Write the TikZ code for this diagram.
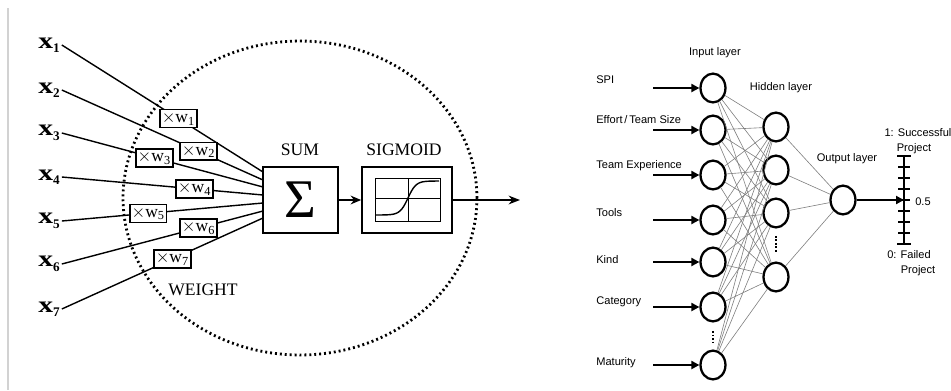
\documentclass[tikz,border=0pt]{standalone}
\usepackage{fontspec}
\setmainfont{Liberation Serif}
\newfontfamily\netfont{Liberation Sans}
\usetikzlibrary{shapes.geometric,arrows.meta}

\newcommand{\xin}[1]{{\fontsize{13}{13}\selectfont\bfseries\scalebox{1.3}[1]{x}}\raisebox{-2.5pt}{\fontsize{7.5}{7.5}\selectfont\bfseries #1}}
\newcommand{\wgt}[1]{$\times$w\textsubscript{#1}}

\begin{document}
\begin{tikzpicture}[x=0.02cm,y=-0.02cm,
  inline/.style={line width=0.8pt},
  wbox/.style={draw,fill=white,line width=0.8pt,minimum width=21pt,minimum height=10.2pt,inner sep=1pt,font=\fontsize{10}{10}\selectfont},
  blockbox/.style={draw,line width=1.2pt,minimum height=37.4pt,inner sep=0pt},
  serlabel/.style={font=\fontsize{10}{10}\selectfont},
  neuron/.style={ellipse,draw,line width=1.3pt,minimum width=14.2pt,minimum height=16.4pt,inner sep=0pt},
  netlabel/.style={font=\netfont\fontsize{6.3}{7.5}\selectfont,inner sep=0pt},
  conn/.style={gray,line width=0.35pt},
  inarrow/.style={line width=1.6pt,-{Triangle[length=4.5pt,width=4.5pt]}},
  vdots/.style={line width=1.2pt,dash pattern=on 1pt off 1pt}]

\useasboundingbox (0,0) rectangle (951,390);

% Frame line
\draw[gray!35,line width=0.6pt] (8,8) -- (8,390);

% ---------------- Single neuron ----------------
% Weight area
\draw[line width=1.6pt,dash pattern=on 1.1pt off 1.7pt] (300,198) ellipse [x radius=3.54cm,y radius=3.14cm];

% Sum and sigmoid blocks
\node[blockbox,minimum width=42.5pt,font=\fontsize{31}{31}\selectfont] (sum) at (300.5,200) {Σ};
\node[blockbox,minimum width=51pt] (sig) at (407,200) {};
\node[serlabel] (sumlab) at (300,150) {SUM};
\node[serlabel] (siglab) at (404,150) {SIGMOID};
\node[serlabel] (wlab) at (203,290) {WEIGHT};

% Sigmoid plot
\draw[line width=0.5pt] (375,178) rectangle (440,221);
\draw[line width=0.4pt] (408,178) -- (408,221) (375,198) -- (440,198);
\draw[line width=0.8pt] plot[domain=376:439,samples=40,smooth] (\x,{198-17*tanh((\x-408)/8)});

\draw[line width=0.8pt,-{Stealth[length=6pt,width=5pt]}] (sum) -- (sig);
\coordinate (yout) at (520,200);
\draw[line width=0.8pt,-{Stealth[length=6.5pt,width=5pt]}] (sig) -- (yout);

% Inputs
\foreach \i/\y in {1/45,2/90,3/133,4/177,5/221,6/264,7/309}
  \node[inner sep=1pt] (x\i) at (49,\y) {\xin{\i}};
\foreach \i/\y in {1/172,2/180,3/187,4/195,5/203,6/211,7/218}
  \coordinate (s\i) at (263,\y);

\draw[inline] (x1.east) -- node[wbox,pos=0.58] (w1) {\wgt{1}} (s1);
\draw[inline] (x2.east) -- node[wbox,pos=0.68] (w2) {\wgt{2}} (s2);
\draw[inline] (x3.east) -- node[wbox,pos=0.46] (w3) {\wgt{3}} (s3);
\draw[inline] (x4.east) -- node[wbox,pos=0.66] (w4) {\wgt{4}} (s4);
\draw[inline] (x5.east) -- node[wbox,pos=0.43] (w5) {\wgt{5}} (s5);
\draw[inline] (x6.east) -- node[wbox,pos=0.68] (w6) {\wgt{6}} (s6);
\draw[inline] (x7.east) -- node[wbox,pos=0.55] (w7) {\wgt{7}} (s7);

% ---------------- Network ----------------
\node[netlabel] (inlayer) at (715,53) {Input layer};
\node[netlabel] (hidlayer) at (781,88) {Hidden layer};
\node[netlabel] (outlayer) at (847,159) {Output layer};

% Input layer
\foreach \i/\y/\name/\ly in {1/88/{SPI}/80,2/130/{Effort\,/\,Team Size}/120,3/175/{Team Experience}/166,4/220/{Tools}/213,5/262/{Kind}/260,6/307/{Category}/302,7/365/{Maturity}/363}{
  \node[neuron] (in\i) at (713,\y) {};
  \node[netlabel,anchor=west] (lab\i) at (596,\ly) {\name};
  \coordinate (a\i) at (653,\y);
  \draw[inarrow] (a\i) -- (in\i);
}

% Hidden layer
\foreach \h/\y in {1/127,2/170,3/213,4/277}
  \node[neuron] (hid\h) at (776,\y) {};

% Output layer
\node[neuron] (outn) at (843,200) {};

% Connections
\foreach \i in {1,...,7}
  \foreach \h in {1,...,4}
    \draw[conn] (in\i) -- (hid\h);
\foreach \h in {1,...,4}
  \draw[conn] (hid\h) -- (outn);

\draw[vdots] ([yshift=-4.8pt]in6.south) -- ([yshift=3pt]in7.north);
\draw[vdots] ([yshift=-4.2pt]hid3.south) -- ([yshift=5.4pt]hid4.north);

% Output scale
\coordinate (stop) at (904,156);
\coordinate (sbot) at (904,244);
\coordinate (smid) at (904,200);
\draw[line width=1.2pt] (stop) -- (sbot);
\foreach \k in {1,...,7}
  \draw[line width=0.7pt] (898,156+11*\k) -- (910,156+11*\k);
\draw[line width=1.4pt] (897,156) -- (911,156) (897,244) -- (911,244);
\draw[inarrow] (outn) -- (smid);

\node[netlabel] (one) at (918,133) {1: Successful};
\node[netlabel] (oneb) at (914,149) {Project};
\node[netlabel] (half) at (923,202) {0.5};
\node[netlabel] (zero) at (909,255) {0: Failed};
\node[netlabel] (zerob) at (918,271) {Project};

\end{tikzpicture}
\end{document}
